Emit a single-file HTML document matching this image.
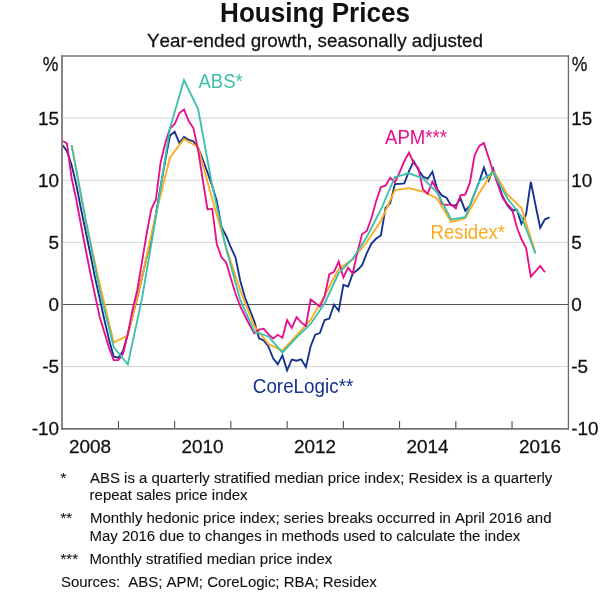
<!DOCTYPE html>
<html><head><meta charset="utf-8"><title>Housing Prices</title>
<style>
html,body{margin:0;padding:0;background:#fff;}
body{width:600px;height:594px;overflow:hidden;font-family:"Liberation Sans",sans-serif;}
svg{display:block;will-change:transform;}
text{font-family:"Liberation Sans",sans-serif;font-kerning:none;}
</style></head><body>
<svg width="600" height="594" viewBox="0 0 600 594">
<rect x="0" y="0" width="600" height="594" fill="#ffffff"/>
<text transform="translate(315.0 21.9) scale(1 1.05)" text-anchor="middle" font-size="26.1" font-weight="bold" style="fill:#111111;stroke:#111111;stroke-width:0px;">Housing Prices</text>
<text transform="translate(315 47.2) scale(1 1.02)" text-anchor="middle" font-size="18.85" style="fill:#111111;stroke:#111111;stroke-width:0.25px;">Year-ended growth, seasonally adjusted</text>
<line x1="62.0" x2="568.4" y1="118.12" y2="118.12" stroke="#ccd0ce" stroke-width="0.9"/>
<line x1="62.0" x2="568.4" y1="180.25" y2="180.25" stroke="#ccd0ce" stroke-width="0.9"/>
<line x1="62.0" x2="568.4" y1="242.38" y2="242.38" stroke="#ccd0ce" stroke-width="0.9"/>
<line x1="62.0" x2="568.4" y1="366.62" y2="366.62" stroke="#ccd0ce" stroke-width="0.9"/>
<line x1="62.0" x2="568.4" y1="304.50" y2="304.50" stroke="#555555" stroke-width="1.15"/>
<line x1="118.43" x2="118.43" y1="421.05" y2="428.85" stroke="#3c3c3c" stroke-width="1"/>
<line x1="174.67" x2="174.67" y1="421.05" y2="428.85" stroke="#3c3c3c" stroke-width="1"/>
<line x1="230.90" x2="230.90" y1="421.05" y2="428.85" stroke="#3c3c3c" stroke-width="1"/>
<line x1="287.13" x2="287.13" y1="421.05" y2="428.85" stroke="#3c3c3c" stroke-width="1"/>
<line x1="343.36" x2="343.36" y1="421.05" y2="428.85" stroke="#3c3c3c" stroke-width="1"/>
<line x1="399.60" x2="399.60" y1="421.05" y2="428.85" stroke="#3c3c3c" stroke-width="1"/>
<line x1="455.83" x2="455.83" y1="421.05" y2="428.85" stroke="#3c3c3c" stroke-width="1"/>
<line x1="512.06" x2="512.06" y1="421.05" y2="428.85" stroke="#3c3c3c" stroke-width="1"/>
<polyline points="62.2,144.7 66.9,151.0 71.6,165.0 76.3,184.5 80.9,208.5 85.6,231.0 90.3,254.0 95.0,277.5 99.7,298.5 104.4,320.0 109.1,340.0 113.7,356.6 118.4,357.7 123.1,350.7 127.8,334.0 132.5,316.0 137.2,298.0 141.9,278.0 146.5,258.0 151.2,239.0 155.9,214.0 160.6,187.0 165.3,160.0 170.0,135.5 174.7,131.8 179.4,143.0 184.0,137.0 188.7,140.0 193.4,141.2 198.1,148.0 202.8,159.5 207.5,172.5 212.2,186.0 216.8,201.0 221.5,227.0 226.2,236.0 230.9,247.5 235.6,257.7 240.3,281.0 245.0,297.5 249.6,309.3 254.3,321.3 259.0,338.3 263.7,340.5 268.4,346.5 273.1,358.3 277.8,364.2 282.4,355.4 287.1,370.4 291.8,359.5 296.5,360.7 301.2,359.3 305.9,367.1 310.6,346.5 315.2,334.7 319.9,333.0 324.6,320.0 329.3,318.6 334.0,304.8 338.7,310.9 343.4,284.8 348.1,286.5 352.7,273.6 357.4,270.0 362.1,265.3 366.8,253.0 371.5,243.5 376.2,238.5 380.9,235.4 385.5,208.0 390.2,203.3 394.9,184.2 399.6,183.8 404.3,183.4 409.0,171.2 413.7,161.2 418.3,169.5 423.0,176.5 427.7,178.9 432.4,171.8 437.1,189.0 441.8,195.4 446.5,197.7 451.1,205.4 455.8,205.4 460.5,198.3 465.2,210.7 469.9,205.5 474.6,193.5 479.3,181.5 483.9,167.6 488.6,180.4 493.3,168.9 498.0,183.0 502.7,196.5 507.4,205.4 512.1,210.7 516.8,209.5 521.4,223.7 526.1,214.2 530.8,181.8 535.5,205.0 540.2,227.8 544.9,219.3 549.6,217.4" fill="none" stroke="#14338f" stroke-width="1.85" stroke-linejoin="miter" stroke-linecap="butt"/>
<polyline points="71.6,145.2 85.6,220.0 99.7,284.0 113.7,342.4 127.8,335.5 141.9,278.5 155.9,214.0 170.0,157.5 184.0,138.9 198.1,147.0 212.2,199.0 226.2,247.5 240.3,290.5 254.3,326.0 268.4,344.0 282.4,350.6 296.5,335.5 310.6,320.0 324.6,296.0 338.7,268.9 352.7,259.2 366.8,242.0 380.9,221.0 394.9,190.2 409.0,188.1 423.0,191.5 437.1,198.5 451.1,221.9 465.2,218.3 479.3,193.0 493.3,170.5 507.4,194.4 521.4,208.0 535.5,253.0" fill="none" stroke="#fdab1f" stroke-width="1.85" stroke-linejoin="miter" stroke-linecap="butt"/>
<polyline points="62.2,140.8 66.9,143.3 71.6,178.0 76.3,199.5 80.9,224.5 85.6,249.0 90.3,273.0 95.0,295.0 99.7,317.0 104.4,332.5 109.1,348.0 113.7,360.1 118.4,360.1 123.1,353.5 127.8,334.0 132.5,310.0 137.2,290.5 141.9,262.5 146.5,234.5 151.2,209.5 155.9,199.5 160.6,162.5 165.3,143.0 170.0,128.5 174.7,124.0 179.4,113.0 184.0,109.5 188.7,121.0 193.4,128.0 198.1,150.0 202.8,180.0 207.5,209.5 212.2,208.7 216.8,244.0 221.5,257.3 226.2,262.5 230.9,278.5 235.6,294.0 240.3,306.5 245.0,316.0 249.6,325.0 254.3,333.4 259.0,329.5 263.7,328.7 268.4,334.2 273.1,338.5 277.8,334.8 282.4,337.8 287.1,320.0 291.8,327.9 296.5,317.1 301.2,322.4 305.9,326.0 310.6,299.5 315.2,303.0 319.9,306.6 324.6,296.5 329.3,274.2 334.0,271.8 338.7,261.5 343.4,277.5 348.1,267.7 352.7,273.4 357.4,252.0 362.1,234.0 366.8,231.0 371.5,218.0 376.2,201.0 380.9,187.1 385.5,185.7 390.2,177.7 394.9,182.4 399.6,172.4 404.3,161.2 409.0,152.5 413.7,163.0 418.3,168.3 423.0,189.5 427.7,193.6 432.4,181.7 437.1,190.0 441.8,203.6 446.5,205.1 451.1,204.2 455.8,208.3 460.5,195.4 465.2,194.7 469.9,182.7 474.6,155.3 479.3,145.9 483.9,143.0 488.6,157.5 493.3,172.0 498.0,185.0 502.7,198.0 507.4,204.5 512.1,209.3 516.8,227.0 521.4,239.0 526.1,248.0 530.8,276.7 535.5,271.4 540.2,265.9 544.9,272.2" fill="none" stroke="#e5108a" stroke-width="1.85" stroke-linejoin="miter" stroke-linecap="butt"/>
<polyline points="71.6,145.2 85.6,219.5 99.7,290.5 113.7,347.1 127.8,364.4 141.9,299.0 155.9,217.5 170.0,128.0 184.0,80.0 198.1,109.0 212.2,185.5 226.2,249.0 240.3,300.0 254.3,331.5 268.4,336.5 282.4,352.5 296.5,337.5 310.6,324.0 324.6,303.5 338.7,273.0 352.7,258.8 366.8,237.0 380.9,209.5 394.9,177.0 409.0,173.3 423.0,178.3 437.1,192.5 451.1,219.5 465.2,217.2 479.3,181.3 493.3,172.4 507.4,198.3 521.4,216.5 535.5,253.7" fill="none" stroke="#3fbfae" stroke-width="1.85" stroke-linejoin="miter" stroke-linecap="butt"/>
<line x1="62.0" x2="62.0" y1="55.2" y2="429.70000000000005" stroke="#868686" stroke-width="2"/>
<line x1="61.0" x2="569.05" y1="55.95" y2="55.95" stroke="#7c7c7c" stroke-width="1.5"/>
<line x1="568.4" x2="568.4" y1="55.2" y2="429.70000000000005" stroke="#6a6a6a" stroke-width="1.3"/>
<line x1="61.0" x2="569.05" y1="428.85" y2="428.85" stroke="#747474" stroke-width="1.7"/>
<text transform="translate(59.0 124.7) scale(1 1.02)" text-anchor="end" font-size="18.9" style="fill:#111111;stroke:#111111;stroke-width:0.25px;">15</text>
<text transform="translate(571.3 124.7) scale(1 1.02)" text-anchor="start" font-size="18.9" style="fill:#111111;stroke:#111111;stroke-width:0.25px;">15</text>
<text transform="translate(59.0 186.8) scale(1 1.02)" text-anchor="end" font-size="18.9" style="fill:#111111;stroke:#111111;stroke-width:0.25px;">10</text>
<text transform="translate(571.3 186.8) scale(1 1.02)" text-anchor="start" font-size="18.9" style="fill:#111111;stroke:#111111;stroke-width:0.25px;">10</text>
<text transform="translate(59.0 249.0) scale(1 1.02)" text-anchor="end" font-size="18.9" style="fill:#111111;stroke:#111111;stroke-width:0.25px;">5</text>
<text transform="translate(571.3 249.0) scale(1 1.02)" text-anchor="start" font-size="18.9" style="fill:#111111;stroke:#111111;stroke-width:0.25px;">5</text>
<text transform="translate(59.0 311.1) scale(1 1.02)" text-anchor="end" font-size="18.9" style="fill:#111111;stroke:#111111;stroke-width:0.25px;">0</text>
<text transform="translate(571.3 311.1) scale(1 1.02)" text-anchor="start" font-size="18.9" style="fill:#111111;stroke:#111111;stroke-width:0.25px;">0</text>
<text transform="translate(59.0 373.2) scale(1 1.02)" text-anchor="end" font-size="18.9" style="fill:#111111;stroke:#111111;stroke-width:0.25px;">-5</text>
<text transform="translate(571.3 373.2) scale(1 1.02)" text-anchor="start" font-size="18.9" style="fill:#111111;stroke:#111111;stroke-width:0.25px;">-5</text>
<text transform="translate(59.0 435.4) scale(1 1.02)" text-anchor="end" font-size="18.9" style="fill:#111111;stroke:#111111;stroke-width:0.25px;">-10</text>
<text transform="translate(571.3 435.4) scale(1 1.02)" text-anchor="start" font-size="18.9" style="fill:#111111;stroke:#111111;stroke-width:0.25px;">-10</text>
<text transform="translate(58.4 70.9) scale(0.93 1.085)" text-anchor="end" font-size="18.9" style="fill:#111111;stroke:#111111;stroke-width:0.25px;">%</text>
<text transform="translate(571.8 70.9) scale(0.93 1.085)" text-anchor="start" font-size="18.9" style="fill:#111111;stroke:#111111;stroke-width:0.25px;">%</text>
<text transform="translate(90.0 452.9) scale(1 1.02)" text-anchor="middle" font-size="18.9" style="fill:#111111;stroke:#111111;stroke-width:0.25px;">2008</text>
<text transform="translate(202.5 452.9) scale(1 1.02)" text-anchor="middle" font-size="18.9" style="fill:#111111;stroke:#111111;stroke-width:0.25px;">2010</text>
<text transform="translate(314.9 452.9) scale(1 1.02)" text-anchor="middle" font-size="18.9" style="fill:#111111;stroke:#111111;stroke-width:0.25px;">2012</text>
<text transform="translate(427.4 452.9) scale(1 1.02)" text-anchor="middle" font-size="18.9" style="fill:#111111;stroke:#111111;stroke-width:0.25px;">2014</text>
<text transform="translate(539.9 452.9) scale(1 1.02)" text-anchor="middle" font-size="18.9" style="fill:#111111;stroke:#111111;stroke-width:0.25px;">2016</text>
<text transform="translate(198.5 87.7) scale(1 1.06)" text-anchor="start" font-size="18.5" style="fill:#3fbfae;stroke:#3fbfae;stroke-width:0px;">ABS*</text>
<text transform="translate(385 144) scale(1 1.06)" text-anchor="start" font-size="18.6" style="fill:#e5108a;stroke:#e5108a;stroke-width:0px;">APM***</text>
<text transform="translate(430.6 239) scale(1 1.06)" text-anchor="start" font-size="18.6" style="fill:#fdab1f;stroke:#fdab1f;stroke-width:0px;">Residex*</text>
<text transform="translate(252.8 392.6) scale(1 1.06)" text-anchor="start" font-size="18.85" style="fill:#14338f;stroke:#14338f;stroke-width:0px;">CoreLogic**</text>
<text transform="translate(60.5 483) scale(1 1.02)" text-anchor="start" font-size="14.97" style="fill:#111111;stroke:#111111;stroke-width:0.1px;">*</text>
<text transform="translate(90 483) scale(1 1.02)" text-anchor="start" font-size="14.97" style="fill:#111111;stroke:#111111;stroke-width:0.1px;">ABS is a quarterly stratified median price index; Residex is a quarterly</text>
<text transform="translate(89.6 500.2) scale(1 1.02)" text-anchor="start" font-size="14.97" style="fill:#111111;stroke:#111111;stroke-width:0.1px;">repeat sales price index</text>
<text transform="translate(60.5 523) scale(1 1.02)" text-anchor="start" font-size="14.97" style="fill:#111111;stroke:#111111;stroke-width:0.1px;">**</text>
<text transform="translate(90 523) scale(1 1.02)" text-anchor="start" font-size="14.97" style="fill:#111111;stroke:#111111;stroke-width:0.1px;">Monthly hedonic price index; series breaks occurred in April 2016 and</text>
<text transform="translate(89.5 540.6) scale(1 1.02)" text-anchor="start" font-size="14.97" style="fill:#111111;stroke:#111111;stroke-width:0.1px;">May 2016 due to changes in methods used to calculate the index</text>
<text transform="translate(60.5 564.4) scale(1 1.02)" text-anchor="start" font-size="14.97" style="fill:#111111;stroke:#111111;stroke-width:0.1px;">***</text>
<text transform="translate(89.4 564.4) scale(1 1.02)" text-anchor="start" font-size="14.97" style="fill:#111111;stroke:#111111;stroke-width:0.1px;">Monthly stratified median price index</text>
<text transform="translate(61 587.0) scale(1 1.02)" text-anchor="start" font-size="14.97" style="fill:#111111;stroke:#111111;stroke-width:0.1px;">Sources:</text>
<text transform="translate(128.2 587.0) scale(1 1.02)" text-anchor="start" font-size="14.97" style="fill:#111111;stroke:#111111;stroke-width:0.1px;">ABS; APM; CoreLogic; RBA; Residex</text>
</svg></body></html>
